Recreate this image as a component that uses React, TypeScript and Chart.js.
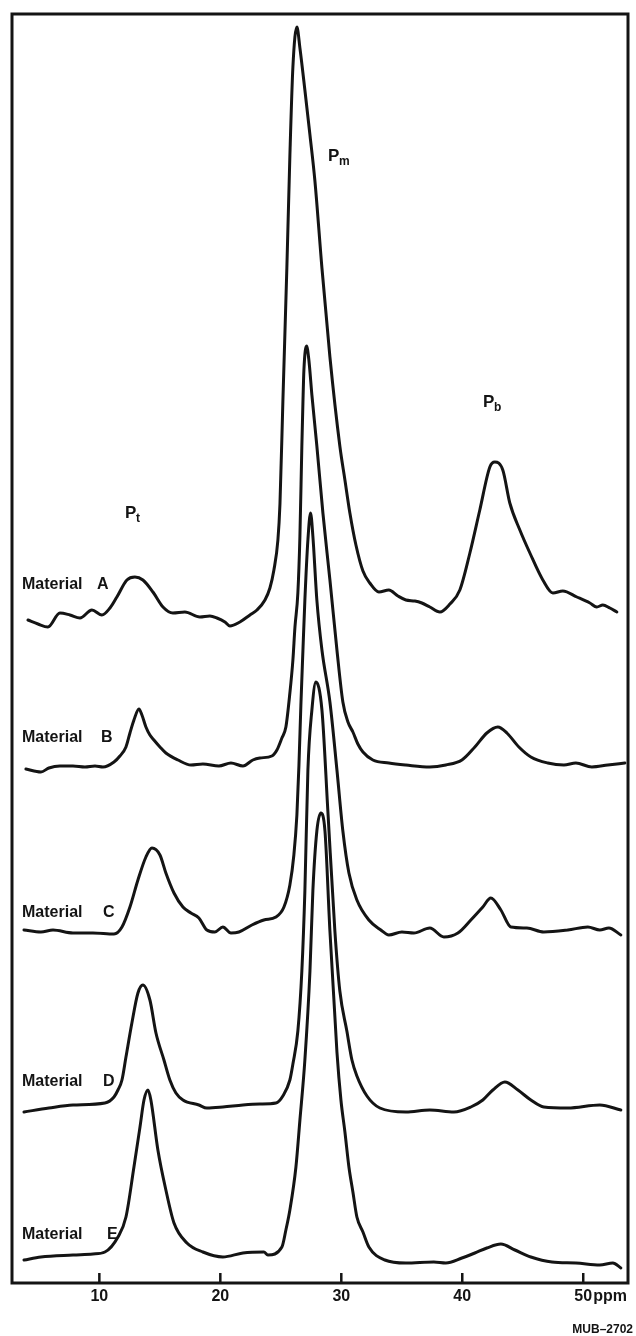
import React, { useEffect, useRef } from 'react';
import { Chart, registerables } from 'chart.js';

Chart.register(...registerables);

// Chemical shift axis (ppm)
const X_MIN = 2.78;
const X_MAX = 53.7;
const TICK_VALUES = [10, 20, 30, 40, 50];
const TICK_LABELS = ['10', '20', '30', '40', '50'];
const AXIS_UNIT = 'ppm';
const Y_MAX = 1269;

const MATERIALS = ['A', 'B', 'C', 'D', 'E'];
// vertical offset (stacking) of each trace
const BASELINES = [663, 516, 353, 177, 26];

const PPM_A = [4.10,4.93,5.75,6.74,7.57,8.40,9.39,10.21,10.88,11.45,12.28,12.94,13.60,14.43,15.26,16.08,17.07,18.31,19.14,19.72,20.38,20.79,21.62,22.45,23.03,23.69,24.10,24.43,24.76,24.93,25.17,25.50,25.75,26.00,26.33,26.58,26.99,27.41,27.82,28.40,29.06,29.88,30.30,30.71,31.21,31.79,32.36,33.11,33.93,34.68,35.34,36.08,36.66,37.32,38.15,38.98,39.80,40.63,41.45,42.28,42.69,43.35,43.93,44.76,45.59,46.66,47.49,48.31,49.47,50.55,51.12,51.62,52.20,52.78];
const INT_A = [0,-4,-7,7,5,2,10,5,12,23,40,43,40,28,13,7,8,3,4,2,-2,-6,-2,5,10,20,32,50,80,116,218,352,464,553,593,572,530,485,439,352,263,174,140,107,75,49,37,28,30,24,20,19,17,13,8,16,30,67,110,153,158,150,117,90,67,40,27,29,23,17,13,15,12,8];

const PPM_B = [3.93,5.17,5.83,6.74,7.82,8.81,9.64,10.30,11.21,11.70,12.20,12.53,12.86,13.27,13.52,13.85,14.18,14.51,15.01,15.50,16.50,17.57,18.56,19.88,20.88,21.87,22.69,23.27,24.26,24.68,25.09,25.42,25.75,26.00,26.17,26.41,26.58,26.74,26.83,26.91,27.13,27.32,27.57,27.98,28.48,29.06,29.64,30.13,30.55,30.96,31.37,31.79,32.61,33.93,35.34,37.32,38.64,39.97,41.04,42.03,42.94,43.69,44.68,45.67,47.07,48.40,49.39,50.71,52.03,53.44];
const INT_B = [-2,-5,-1,1,1,0,1,0,5,11,20,34,47,58,52,40,32,27,20,14,7,2,3,1,4,1,7,9,11,17,29,40,74,107,140,174,231,321,365,397,421,407,372,321,254,187,117,65,45,35,23,15,7,4,2,0,2,7,20,34,40,34,20,10,4,2,4,0,2,4];

const PPM_C = [3.77,5.17,6.17,7.82,9.47,11.21,11.87,12.53,13.19,13.85,14.35,15.01,15.50,16.17,16.91,17.57,18.23,18.89,19.55,20.21,20.88,21.54,22.61,23.60,24.60,25.26,25.75,26.08,26.33,26.50,26.66,26.83,26.99,27.24,27.46,27.65,27.98,28.40,29.06,29.64,30.13,30.63,31.29,32.28,33.27,33.93,35.01,36.00,37.32,38.48,39.64,40.71,41.70,42.36,43.19,44.02,45.34,46.74,48.73,50.38,51.37,52.12,53.11];
const INT_C = [0,-2,0,-3,-3,-4,3,23,50,73,82,75,57,37,23,17,12,0,-2,3,-3,-2,5,10,13,23,45,75,115,165,225,280,330,390,417,394,330,280,228,160,99,57,30,10,0,-5,-2,-3,2,-7,-3,10,23,32,20,3,2,-2,0,3,0,2,-5];

const PPM_D = [3.77,5.83,7.82,10.46,11.21,11.54,11.87,12.20,12.69,13.19,13.60,14.18,14.68,15.34,15.83,16.33,16.91,18.23,18.89,20.21,21.87,23.27,24.60,25.17,25.75,26.00,26.41,26.74,26.99,27.24,27.57,27.90,28.40,28.89,29.47,29.88,30.46,30.88,31.29,32.12,33.19,35.34,37.32,39.31,40.71,41.70,42.53,43.52,44.60,45.67,46.74,48.73,51.37,53.11];
const INT_D = [-6,-2,1,3,9,16,26,49,83,113,121,106,73,46,26,13,6,1,-2,-1,1,2,3,10,26,42,75,135,215,336,396,424,396,295,175,115,75,46,30,10,-2,-6,-4,-6,-1,6,16,24,16,6,-1,-2,1,-4];

const PPM_E = [3.77,5.17,7.82,9.47,10.46,11.54,12.20,12.86,13.36,13.69,14.02,14.26,14.84,15.50,16.17,17.24,18.56,20.21,21.87,23.60,23.93,25.09,25.42,25.75,26.25,26.58,26.99,27.41,27.65,27.98,28.31,28.65,29.06,29.64,29.97,30.30,30.63,30.96,31.29,31.79,32.28,33.60,35.34,37.65,38.64,39.97,41.04,42.03,43.19,44.35,45.67,47.41,49.39,51.37,52.45,53.11];
const INT_E = [-3,0,2,3,5,20,40,90,130,157,167,157,107,67,34,14,5,0,4,5,2,10,27,47,90,137,197,286,366,426,444,426,326,205,157,125,90,65,40,25,10,-3,-6,-5,-6,-1,4,9,13,7,0,-5,-6,-8,-6,-11];

const PPM = [PPM_A, PPM_B, PPM_C, PPM_D, PPM_E];
const INTENSITY = [INT_A, INT_B, INT_C, INT_D, INT_E];

const FONT = '"Liberation Sans", Arial, Helvetica, sans-serif';
const INK = '#141414';

const annotate = {
  id: 'annotate',
  afterDraw(chart: any) {
    const ctx = chart.ctx as CanvasRenderingContext2D;
    const { left, right, top, bottom } = chart.chartArea;
    const xs = chart.scales.x;
    ctx.save();
    ctx.strokeStyle = INK;
    ctx.fillStyle = INK;
    ctx.lineWidth = 3;
    ctx.strokeRect(left, top, right - left, bottom - top);

    // inward ticks + labels
    ctx.lineWidth = 2.5;
    ctx.font = `bold 16px ${FONT}`;
    ctx.textBaseline = 'middle';
    TICK_VALUES.forEach((v, i) => {
      const px = xs.getPixelForValue(v);
      ctx.beginPath();
      ctx.moveTo(px, bottom);
      ctx.lineTo(px, bottom - 10);
      ctx.stroke();
      ctx.textAlign = 'center';
      ctx.fillText(TICK_LABELS[i], px, bottom + 14);
    });
    ctx.textAlign = 'left';
    ctx.fillText(AXIS_UNIT, xs.getPixelForValue(50) + 10, bottom + 14);

    // material labels
    const labelY = [585, 738, 913, 1082, 1235];
    const letterX = [97, 101, 103, 103, 107];
    MATERIALS.forEach((m, i) => {
      ctx.font = `bold 16px ${FONT}`;
      ctx.fillText('Material', left + 10, labelY[i]);
      ctx.fillText(m, letterX[i], labelY[i]);
    });

    // peak labels
    const peak = (px: number, py: number, sub: string) => {
      ctx.font = `bold 17px ${FONT}`;
      ctx.fillText('P', px, py);
      ctx.font = `bold 12px ${FONT}`;
      ctx.fillText(sub, px + 11, py + 6);
    };
    peak(125, 513, 't');
    peak(328, 156, 'm');
    peak(483, 402, 'b');

    ctx.font = `bold 12px ${FONT}`;
    ctx.textAlign = 'right';
    ctx.fillText('MUB\u20132702', 633, 1330);
    ctx.restore();
  },
};

export default function App() {
  const ref = useRef<HTMLCanvasElement | null>(null);
  useEffect(() => {
    if (!ref.current) return;
    const datasets = MATERIALS.map((m, k) => ({
      label: `Material ${m}`,
      data: PPM[k].slice(0, Math.min(PPM[k].length, INTENSITY[k].length)).map((x, i) => ({ x, y: BASELINES[k] + INTENSITY[k][i] })),
      borderColor: INK,
      borderWidth: 3,
      pointRadius: 0,
      fill: false,
      cubicInterpolationMode: 'monotone' as const,
      borderJoinStyle: 'round' as const,
      borderCapStyle: 'round' as const,
    }));
    const chart = new Chart(ref.current, {
      type: 'line',
      data: { datasets },
      options: {
        animation: false,
        responsive: false,
        devicePixelRatio: 1,
        layout: { padding: { left: 12, right: 8, top: 14, bottom: 53 } },
        plugins: { legend: { display: false }, tooltip: { enabled: false } },
        scales: {
          x: { type: 'linear', min: X_MIN, max: X_MAX, display: false },
          y: { type: 'linear', min: 0, max: Y_MAX, display: false },
        },
      },
      plugins: [annotate],
    });
    return () => chart.destroy();
  }, []);
  return (
    <div style={{ position: 'absolute', left: 0, top: 0, width: 636, height: 1336, background: '#fff' }}>
      <canvas ref={ref} width={636} height={1336} style={{ display: 'block' }} />
    </div>
  );
}
